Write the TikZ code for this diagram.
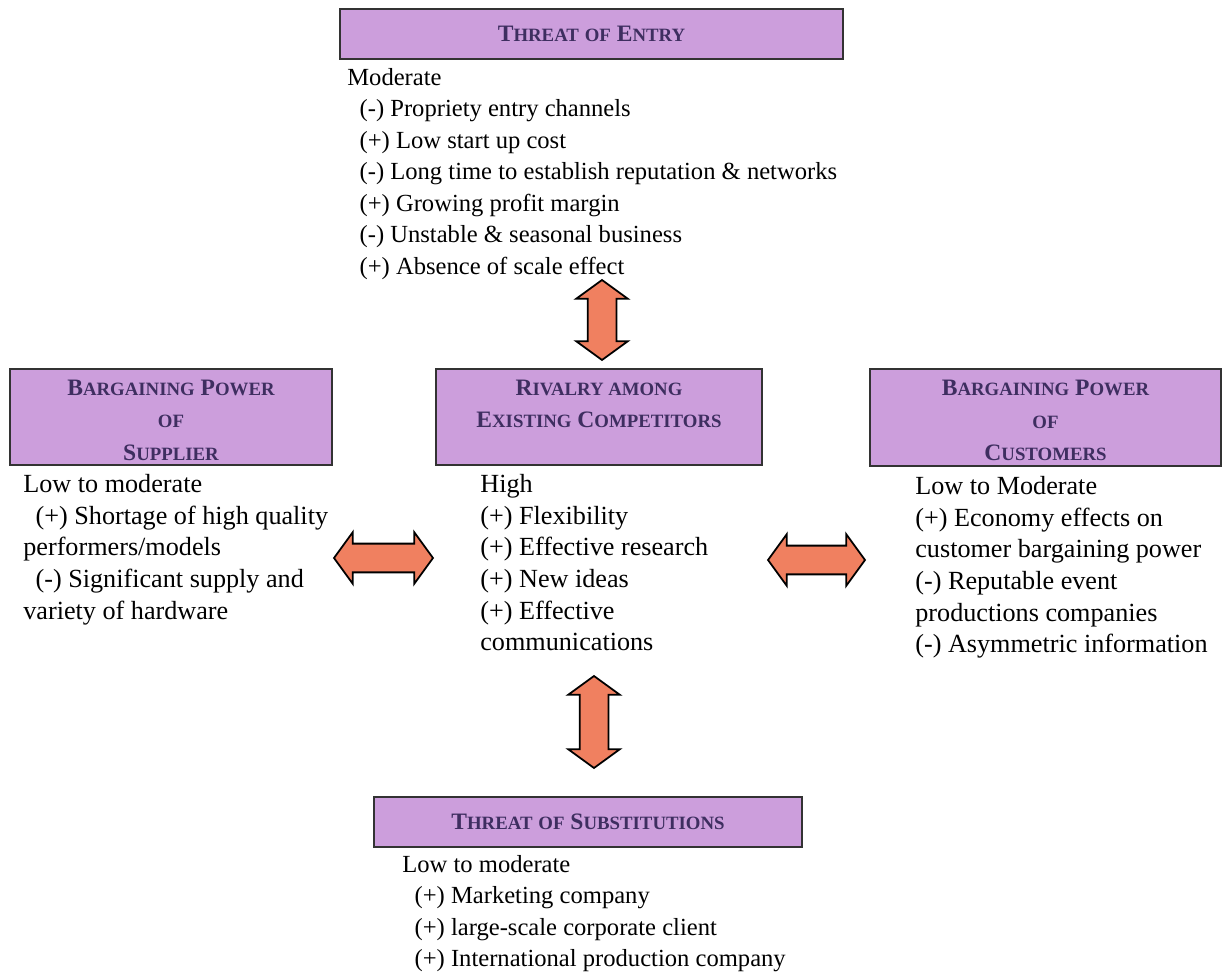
\documentclass[tikz,border=0pt]{standalone}
\usepackage{fontspec}
\setmainfont{Liberation Serif}
\usetikzlibrary{shapes.arrows}

\definecolor{boxfill}{RGB}{204,158,220}
\definecolor{titleink}{RGB}{62,46,96}
\definecolor{arrowfill}{RGB}{240,128,96}

% big first letter, rest in small capitals
\newcommand{\bigsc}[2]{{\fontsize{13.4}{13.4}\selectfont #1}{\fontsize{10.7}{10.7}\selectfont #2}}
\newcommand{\forceind}{\hspace*{7pt}}
\newcommand{\toprule}{\rule{0pt}{12.5pt}}

\tikzset{
  forcebox/.style={draw=black!80, line width=0.8pt, fill=boxfill, text=titleink,
    font=\bfseries\fontsize{13.4}{18.5}\selectfont, align=center, inner sep=0pt},
  forcetext/.style={anchor=north west, align=left, inner sep=0pt,
    font=\fontsize{14}{17.9}\selectfont},
  midtext/.style={forcetext, font=\fontsize{14.9}{18}\selectfont},
  fatarrow/.style={double arrow, draw=black, line width=1pt, fill=arrowfill,
    inner xsep=0pt, inner ysep=0.27cm, double arrow head extend=0.23cm,
    double arrow tip angle=108},
}

\begin{document}
\begin{tikzpicture}[x=0.02cm, y=-0.02cm]
%                 [ entry ]
%                     |
%   [supplier] <-> [rivalry] <-> [customers]
%                     |
%                 [ subst ]
\useasboundingbox (0,0) rectangle (1223,972);

\node[forcebox, minimum width=10.06cm, minimum height=1cm] (entry) at (591.5,34)
  {\bigsc{T}{HREAT} \bigsc{}{OF} \bigsc{E}{NTRY}};
\node[forcetext] (entrytxt) at (347,68)
  {Moderate\\
   \forceind(-) Propriety entry channels\\
   \forceind(+) Low start up cost\\
   \forceind(-) Long time to establish reputation \& networks\\
   \forceind(+) Growing profit margin\\
   \forceind(-) Unstable \& seasonal business\\
   \forceind(+) Absence of scale effect};

\node[forcebox, minimum width=6.44cm, minimum height=1.92cm] (supplier) at (171,417)
  {\toprule\bigsc{B}{ARGAINING} \bigsc{P}{OWER}\\ \bigsc{}{OF}\\ \bigsc{S}{UPPLIER}};
\node[midtext] (suppliertxt) at (23,474)
  {Low to moderate\\
   \forceind(+) Shortage of high quality\\
   performers/models\\
   \forceind(-) Significant supply and\\
   variety of hardware};

\node[forcebox, minimum width=6.52cm, minimum height=1.92cm] (rivalry) at (599,417)
  {\toprule\bigsc{R}{IVALRY AMONG}\\ \bigsc{E}{XISTING} \bigsc{C}{OMPETITORS}\\ };
\node[midtext] (rivalrytxt) at (480,474)
  {High\\
   (+) Flexibility\\
   (+) Effective research\\
   (+) New ideas\\
   (+) Effective\\
   communications};

\node[forcebox, minimum width=7.02cm, minimum height=1.94cm] (customers) at (1045.5,417.5)
  {\toprule\bigsc{B}{ARGAINING} \bigsc{P}{OWER}\\ \bigsc{}{OF}\\ \bigsc{C}{USTOMERS}};
\node[midtext] (customerstxt) at (915,476)
  {Low to Moderate\\
   (+) Economy effects on\\
   customer bargaining power\\
   (-) Reputable event\\
   productions companies\\
   (-) Asymmetric information};

\node[forcebox, minimum width=8.56cm, minimum height=1cm] (subst) at (588,822)
  {\bigsc{T}{HREAT} \bigsc{}{OF} \bigsc{S}{UBSTITUTIONS}};
\node[forcetext] (substtxt) at (402,855)
  {Low to moderate\\
   \forceind(+) Marketing company\\
   \forceind(+) large-scale corporate client\\
   \forceind(+) International production company};

% the four double arrows
\node[fatarrow, rotate=90, minimum height=1.6cm] (upperarr) at (602,320) {};
\node[fatarrow, rotate=90, minimum height=1.84cm] (lowerarr) at (594,722) {};
\node[fatarrow, minimum height=1.98cm] (leftarr) at (383.5,558) {};
\node[fatarrow, minimum height=1.94cm] (rightarr) at (816.5,560) {};
\end{tikzpicture}
\end{document}
